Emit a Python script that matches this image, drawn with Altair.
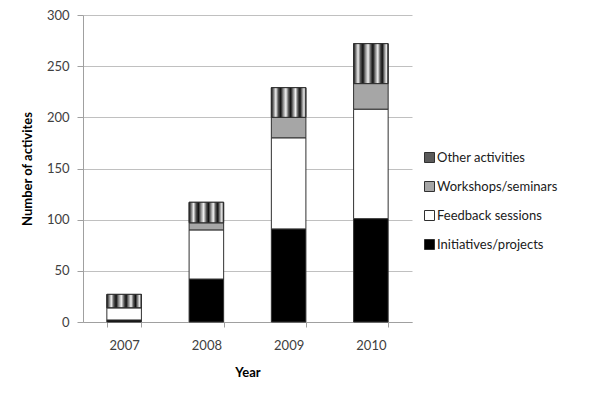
import altair as alt
import pandas as pd

years = ["2007", "2008", "2009", "2010"]
initiatives = [2, 42, 91, 101]
feedback = [12, 48, 89, 107]
workshops = [0, 7, 20, 25]
other = [13, 20, 29, 39]

series = ["Initiatives/projects", "Feedback sessions", "Workshops/seminars", "Other activities"]
legend_order = ["Other activities", "Workshops/seminars", "Feedback sessions", "Initiatives/projects"]
colors = ["#5a5a5a", "#a6a6a6", "#ffffff", "#000000"]

rows = []
for i, y in enumerate(years):
    for k, (name, vals) in enumerate(zip(series, [initiatives, feedback, workshops, other])):
        rows.append({"Year": y, "Type": name, "Count": vals[i], "ord": k})
df = pd.DataFrame(rows)

FONT = "Lato"

x_enc = alt.X("Year:N", title="Year",
              scale=alt.Scale(paddingInner=0.58, paddingOuter=0.29),
              axis=alt.Axis(labelAngle=0, tickBand="extent", domainColor="#a0a0a0",
                            tickColor="#a0a0a0", tickSize=5, labelPadding=12,
                            titlePadding=14))
y_enc = alt.Y("y0:Q", title="Number of activites",
              scale=alt.Scale(domain=[0, 300]),
              axis=alt.Axis(values=[0, 50, 100, 150, 200, 250, 300], grid=True,
                            gridColor="#c0c0c0", domainColor="#a0a0a0", tickColor="#a0a0a0",
                            tickSize=6, labelPadding=8, titlePadding=12))

base = alt.Chart(df).transform_stack(
    stack="Count", groupby=["Year"], as_=["y0", "y1"],
    sort=[alt.SortField("ord", order="ascending")]
)

bars = base.mark_bar(stroke="#303030", strokeWidth=1).encode(
    x=x_enc,
    y=y_enc,
    y2="y1:Q",
    color=alt.Color("Type:N", scale=alt.Scale(domain=legend_order, range=colors),
                    legend=alt.Legend(title=None, orient="none", legendX=340, legendY=136,
                                      symbolType="square", symbolSize=100,
                                      symbolStrokeColor="#303030", symbolStrokeWidth=1,
                                      labelFontSize=13, labelColor="#202020", labelFont=FONT,
                                      rowPadding=14, labelOffset=1)),
)

stops = []
pattern = [(0.0, "#111111"), (0.06, "#777777"), (0.13, "#f0f0f0"), (0.2, "#555555"),
           (0.27, "#111111"), (0.34, "#888888"), (0.42, "#f2f2f2"), (0.5, "#555555"),
           (0.56, "#111111"), (0.63, "#888888"), (0.7, "#f2f2f2"), (0.77, "#555555"),
           (0.83, "#111111"), (0.9, "#999999"), (0.95, "#eeeeee"), (1.0, "#222222")]
for off, c in pattern:
    stops.append(alt.GradientStop(offset=off, color=c))

grad = alt.LinearGradient(gradient="linear", stops=stops, x1=0, x2=1, y1=0, y2=0)

hatch = base.transform_filter(alt.datum.Type == "Other activities").mark_bar(
    fill=grad, stroke="#303030", strokeWidth=1
).encode(x=x_enc, y=y_enc, y2="y1:Q")

chart = alt.layer(bars, hatch).properties(
    width=329, height=307,
    autosize=alt.AutoSizeParams(type="none"),
    padding={"left": 75, "top": 7, "right": 180, "bottom": 76},
).configure_view(stroke=None).configure_axis(
    labelFont=FONT, titleFont=FONT, labelFontSize=13, titleFontSize=13,
    labelColor="#404040", titleColor="#000000", titleFontWeight="bold"
)

chart.save("out.html", embed_options={"renderer": "svg", "actions": False})
